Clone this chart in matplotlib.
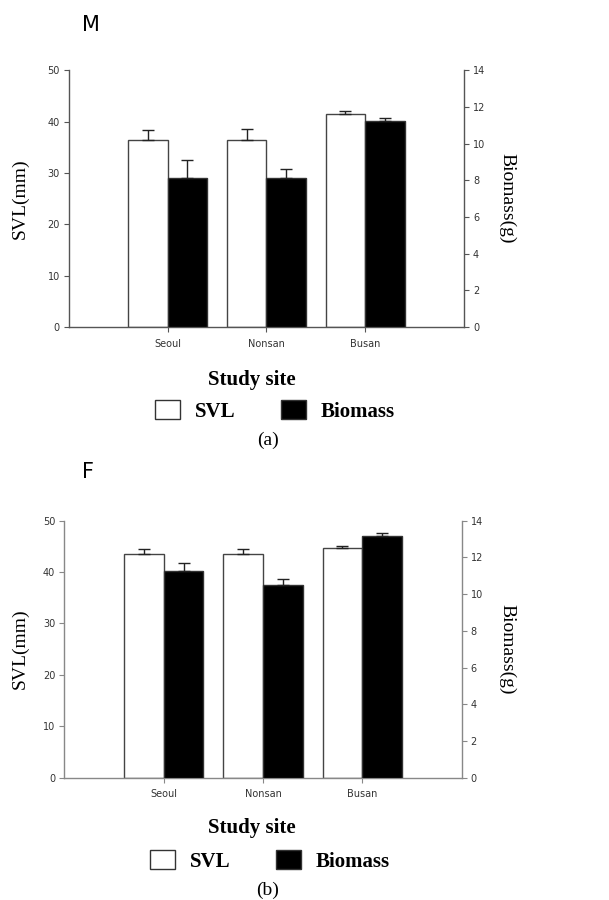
import numpy as np
import matplotlib
matplotlib.use("Agg")
import matplotlib.pyplot as plt

sites = ["Seoul", "Nonsan", "Busan"]

# male (a)
svl_m = [36.5, 36.5, 41.5]
svl_m_se = [1.8, 2.0, 0.5]
bio_m = [8.15, 8.12, 11.23]
bio_m_se = [0.93, 0.52, 0.18]

# female (b)
svl_f = [43.5, 43.5, 44.7]
svl_f_se = [1.05, 1.05, 0.4]
bio_f = [11.28, 10.5, 13.14]
bio_f_se = [0.43, 0.3, 0.17]

SERIF = "Liberation Serif"
SANS = "DejaVu Sans"
W, H = 609, 900


def draw_panel(fig, rect, letter, svl, svl_se, bio, bio_se, spine_col,
               letter_y, xlab_y, leg_x, leg_y, cap_y, cap):
    ax = fig.add_axes(rect)
    ax2 = ax.twinx()
    x = np.arange(1, len(sites) + 1)
    w = 0.4

    ax.bar(x - w / 2, svl, w, color="white", edgecolor="#444444", linewidth=1.0,
           yerr=[np.zeros(len(svl)), svl_se], capsize=4,
           error_kw=dict(ecolor="#222222", elinewidth=1.0, capthick=1.0), zorder=2)
    ax2.bar(x + w / 2, bio, w, color="black", edgecolor="#333333", linewidth=1.0,
            yerr=[np.zeros(len(bio)), bio_se], capsize=4,
            error_kw=dict(ecolor="#222222", elinewidth=1.0, capthick=1.0), zorder=2)

    ax.set_xlim(0, 4)
    ax.set_ylim(0, 50)
    ax2.set_ylim(0, 14)
    ax.set_yticks(range(0, 51, 10))
    ax2.set_yticks(range(0, 15, 2))
    ax.set_xticks(x)
    ax.set_xticklabels(sites)

    for a in (ax, ax2):
        a.spines["top"].set_visible(False)
        for s in ("left", "right", "bottom"):
            a.spines[s].set_color(spine_col)
            a.spines[s].set_linewidth(1.0)
        a.tick_params(axis="both", length=3.5, width=0.8, color=spine_col,
                      labelsize=7, labelcolor="#333333", pad=3)
        for t in a.get_xticklabels() + a.get_yticklabels():
            t.set_family(SANS)
    ax.spines["right"].set_visible(False)
    ax2.spines["left"].set_visible(False)
    ax2.spines["bottom"].set_visible(False)
    ax.tick_params(axis="x", pad=5)

    # axis titles placed by pixel position in the figure
    left_px = rect[0] * W
    width_px = rect[2] * W
    ax.set_ylabel("SVL(mm)", family=SERIF, fontsize=14, va="center")
    ax.yaxis.set_label_coords((20 - left_px) / width_px, 0.5)
    ax2.set_ylabel("Biomass(g)", family=SERIF, fontsize=14, rotation=-90,
                   va="center")
    ax2.yaxis.set_label_coords((507 - left_px) / width_px, 0.5)

    fig.text(82 / W, 1 - letter_y / H, letter, family=SANS, fontsize=15,
             ha="left", va="center")
    fig.text(252 / W, 1 - xlab_y / H, "Study site", family=SERIF,
             fontsize=15, fontweight="bold", ha="center", va="center")

    h1 = plt.Rectangle((0, 0), 1, 1, facecolor="white", edgecolor="#333333")
    h2 = plt.Rectangle((0, 0), 1, 1, facecolor="black", edgecolor="#333333")
    fig.legend([h1, h2], ["SVL", "Biomass"], loc="center",
               bbox_to_anchor=(leg_x / W, 1 - leg_y / H), ncol=2,
               frameon=False, handlelength=1.2, handleheight=1.0,
               handletextpad=0.7, columnspacing=2.2,
               prop=dict(family=SERIF, size=15, weight="bold"))
    fig.text(268 / W, 1 - cap_y / H, cap, family=SERIF, fontsize=14,
             ha="center", va="center")
    return ax, ax2


fig = plt.figure(figsize=(W / 100, H / 100), dpi=100)
draw_panel(fig, [0.1133, 0.6367, 0.6486, 0.2852], "M",
           svl_m, svl_m_se, bio_m, bio_m_se, "#555555",
           25, 380, 275, 411, 440, "(a)")
draw_panel(fig, [0.1056, 0.1359, 0.6525, 0.2856], "F",
           svl_f, svl_f_se, bio_f, bio_f_se, "#888888",
           472, 828, 270, 861, 890, "(b)")

fig.savefig("out.png", dpi=100)
